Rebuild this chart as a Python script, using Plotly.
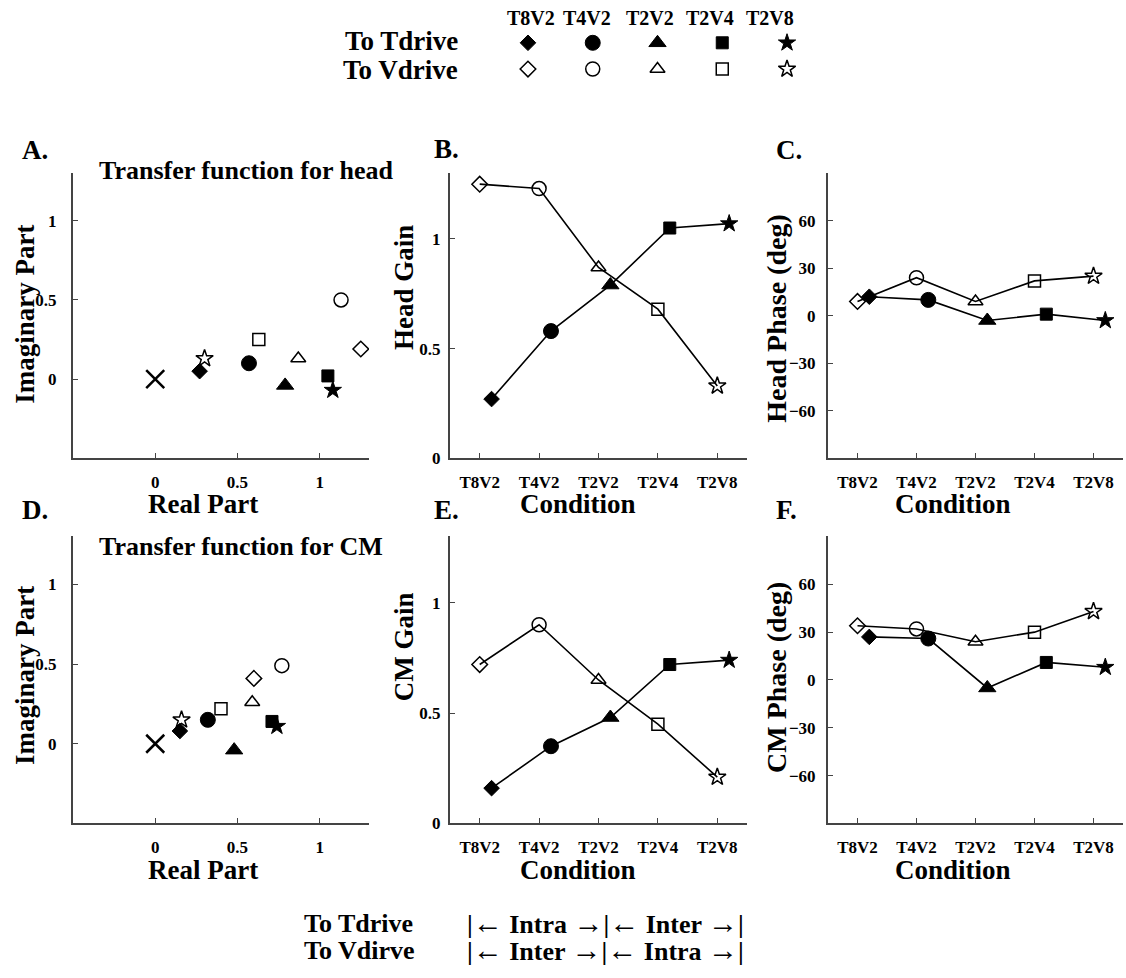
import plotly.graph_objects as go

# ---------------------------------------------------------------- data
conditions = ["T8V2", "T4V2", "T2V2", "T2V4", "T2V8"]

# complex transfer function, head
head_re_tdrive = [0.27, 0.57, 0.79, 1.05, 1.08]
head_im_tdrive = [0.05, 0.10, -0.04, 0.02, -0.07]
head_re_vdrive = [1.25, 1.13, 0.87, 0.63, 0.30]
head_im_vdrive = [0.19, 0.50, 0.13, 0.25, 0.13]

# complex transfer function, CM
cm_re_tdrive = [0.15, 0.32, 0.48, 0.71, 0.74]
cm_im_tdrive = [0.08, 0.15, -0.04, 0.14, 0.11]
cm_re_vdrive = [0.60, 0.77, 0.59, 0.40, 0.16]
cm_im_vdrive = [0.41, 0.49, 0.26, 0.22, 0.15]

# gain / phase per condition
head_gain_tdrive = [0.27, 0.58, 0.79, 1.05, 1.07]
head_gain_vdrive = [1.25, 1.23, 0.87, 0.68, 0.33]
head_phase_tdrive = [12, 10, -3, 1, -3]
head_phase_vdrive = [9, 24, 9, 22, 25]

cm_gain_tdrive = [0.16, 0.35, 0.48, 0.72, 0.74]
cm_gain_vdrive = [0.72, 0.90, 0.65, 0.45, 0.21]
cm_phase_tdrive = [27, 26, -5, 11, 8]
cm_phase_vdrive = [34, 32, 24, 30, 43]

gain_ticks = [0, 0.5, 1]
gain_ticktext = ["0", "0.5", "1"]
phase_ticks = [-60, -30, 0, 30, 60]
complex_ticks = [0, 0.5, 1]
complex_ticktext = ["0", "0.5", "1"]

# ---------------------------------------------------------------- style
W, H = 1126, 978
FONT = "Liberation Serif, Times New Roman, serif"
AXIS_COLOR = "#444444"
SHIFT = 0.2  # horizontal nudge of the Tdrive series in the condition plots

sym_t = ["diamond", "circle", "triangle-up", "square", "star"]
sym_v = [s + "-open" for s in sym_t]
size_t = [12, 15, 15, 12, 13]
size_v = [12, 14, 13, 12, 13]


def fx(p):
    return p / W


def fy(p):
    return 1 - p / H


# plot boxes in pixels: (left, right, top, bottom)
boxes = {
    1: (73, 369, 175, 463),
    2: (450, 747, 175, 463),
    3: (828, 1123, 175, 463),
    4: (73, 369, 542, 832),
    5: (450, 747, 542, 832),
    6: (828, 1123, 542, 832),
}

positions = list(range(1, len(conditions) + 1))
pos_t = [p + SHIFT for p in positions]

fig = go.Figure()


def filled_marker():
    return dict(symbol=sym_t, size=size_t, color="black", opacity=1,
                line=dict(color="black", width=1))


def open_marker():
    return dict(symbol=sym_v, size=size_v, color="black", opacity=1,
                line=dict(color="black", width=1.5))


def add_pair(ax, xt, yt, xv, yv, lines):
    mode = "lines+markers" if lines else "markers"
    xa, ya = ("x", "y") if ax == 1 else (f"x{ax}", f"y{ax}")
    fig.add_trace(go.Scatter(
        x=xt, y=yt, mode=mode, xaxis=xa, yaxis=ya, showlegend=False,
        line=dict(color="black", width=1.6), marker=filled_marker(),
        hoverinfo="skip"))
    fig.add_trace(go.Scatter(
        x=xv, y=yv, mode=mode, xaxis=xa, yaxis=ya, showlegend=False,
        line=dict(color="black", width=1.6), marker=open_marker(),
        hoverinfo="skip"))


def add_origin(ax):
    xa, ya = ("x", "y") if ax == 1 else (f"x{ax}", f"y{ax}")
    fig.add_trace(go.Scatter(
        x=[0], y=[0], mode="markers", xaxis=xa, yaxis=ya, showlegend=False,
        marker=dict(symbol="x-thin", size=18, color="black", opacity=1,
                    line=dict(color="black", width=2.5)),
        hoverinfo="skip"))


# A / D: complex plane
add_origin(1)
add_pair(1, head_re_tdrive, head_im_tdrive, head_re_vdrive, head_im_vdrive, False)
add_origin(4)
add_pair(4, cm_re_tdrive, cm_im_tdrive, cm_re_vdrive, cm_im_vdrive, False)
# B / E: gains
add_pair(2, pos_t, head_gain_tdrive, positions, head_gain_vdrive, True)
add_pair(5, pos_t, cm_gain_tdrive, positions, cm_gain_vdrive, True)
# C / F: phases
add_pair(3, pos_t, head_phase_tdrive, positions, head_phase_vdrive, True)
add_pair(6, pos_t, cm_phase_tdrive, positions, cm_phase_vdrive, True)

# symbol key at the top
key_pos = list(range(len(conditions)))
fig.add_trace(go.Scatter(
    x=key_pos, y=[0] * len(conditions), mode="markers", xaxis="x7", yaxis="y7",
    showlegend=False, hoverinfo="skip", marker=filled_marker()))
fig.add_trace(go.Scatter(
    x=key_pos, y=[1] * len(conditions), mode="markers", xaxis="x7", yaxis="y7",
    showlegend=False, hoverinfo="skip", marker=open_marker()))

# ---------------------------------------------------------------- axes
tickfont = dict(family=FONT, size=17, color="black", weight="bold")
base = dict(showline=True, linecolor=AXIS_COLOR, linewidth=2, mirror=False,
            showgrid=False, zeroline=False, ticks="inside", ticklen=5,
            tickcolor=AXIS_COLOR, tickwidth=1, tickfont=tickfont)

layout_axes = {}
for k, (l, r, t, b) in boxes.items():
    xn = "xaxis" if k == 1 else f"xaxis{k}"
    yn = "yaxis" if k == 1 else f"yaxis{k}"
    xa = dict(base, domain=[fx(l), fx(r)], anchor="y" if k == 1 else f"y{k}")
    ya = dict(base, domain=[fy(b), fy(t)], anchor="x" if k == 1 else f"x{k}")
    if k in (1, 4):
        xa.update(range=[-0.5, 1.3], tickvals=complex_ticks,
                  ticktext=complex_ticktext, ticklabelstandoff=7)
        ya.update(range=[-0.5, 1.3], tickvals=complex_ticks,
                  ticktext=complex_ticktext, ticklabelstandoff=11)
    else:
        xa.update(range=[0.5, 5.5], tickvals=positions, ticktext=conditions,
                  ticklabelstandoff=7)
        if k in (2, 5):
            ya.update(range=[0, 1.3], tickvals=gain_ticks,
                      ticktext=gain_ticktext, ticklabelstandoff=4)
        else:
            ya.update(range=[-90, 90], tickvals=phase_ticks,
                      ticklabelstandoff=7)
    layout_axes[xn] = xa
    layout_axes[yn] = ya

# key axes: columns centred 528 .. 787 px, rows at 43 / 70 px
key_l, key_r = 528 - 32.4, 787 + 32.4
layout_axes["xaxis7"] = dict(domain=[fx(key_l), fx(key_r)], range=[-0.5, 4.5],
                             visible=False, anchor="y7")
layout_axes["yaxis7"] = dict(domain=[fy(83), fy(30)], range=[1.5, -0.5],
                             visible=False, anchor="x7")

# ---------------------------------------------------------------- text
ann = []


def text(s, x, y, size, xanchor="center", angle=0):
    ann.append(dict(text=s, x=fx(x), y=fy(y), xref="paper", yref="paper",
                    xanchor=xanchor, yanchor="middle", showarrow=False,
                    textangle=angle,
                    font=dict(family=FONT, size=size, color="black",
                              weight="bold")))


# key headers and row labels
for name, cx in zip(conditions, [531, 587, 650, 710, 770]):
    text(name, cx, 18, 20)
text("To Tdrive", 460, 41, 27, xanchor="right")
text("To Vdrive", 460, 71, 27, xanchor="right")

# panel letters
for letter, x, y in [("A.", 20, 152), ("B.", 432, 151), ("C.", 774, 152),
                     ("D.", 20, 515), ("E.", 432, 515), ("F.", 774, 515)]:
    text(letter, x, y, 27, xanchor="left")

text("Transfer function for head", 97, 172, 26, xanchor="left")
text("Transfer function for CM", 97, 552, 26, xanchor="left")

# axis titles
text("Real Part", 203, 509, 27)
text("Real Part", 203, 879, 27)
text("Condition", 578, 509, 27)
text("Condition", 578, 879, 27)
text("Condition", 953, 509, 27)
text("Condition", 953, 879, 27)
text("Imaginary Part", 25, 318, 27, angle=-90)
text("Imaginary Part", 25, 683, 27, angle=-90)
text("Head Gain", 404, 291, 27, angle=-90)
text("CM Gain", 404, 654, 27, angle=-90)
text("Head Phase (deg)", 777, 322, 28, angle=-90)
text("CM Phase (deg)", 777, 685, 28, angle=-90)

# bottom note
ARW = '<span style="font-size:30px">{}</span>'
L_ARROW = ARW.format("\u2190")
R_ARROW = ARW.format("\u2192")
text("To Tdrive", 302, 933, 26, xanchor="left")
text("To Vdirve", 302, 960, 26, xanchor="left")
text(f"|{L_ARROW} Intra {R_ARROW}|{L_ARROW} Inter {R_ARROW}|", 465, 932, 26,
     xanchor="left")
text(f"|{L_ARROW} Inter {R_ARROW}|{L_ARROW} Intra {R_ARROW}|", 465, 959, 26,
     xanchor="left")

fig.update_layout(
    width=W, height=H, margin=dict(l=0, r=0, t=0, b=0),
    paper_bgcolor="white", plot_bgcolor="white",
    font=dict(family=FONT, color="black"),
    annotations=ann, **layout_axes)

fig.write_html("out.html")
